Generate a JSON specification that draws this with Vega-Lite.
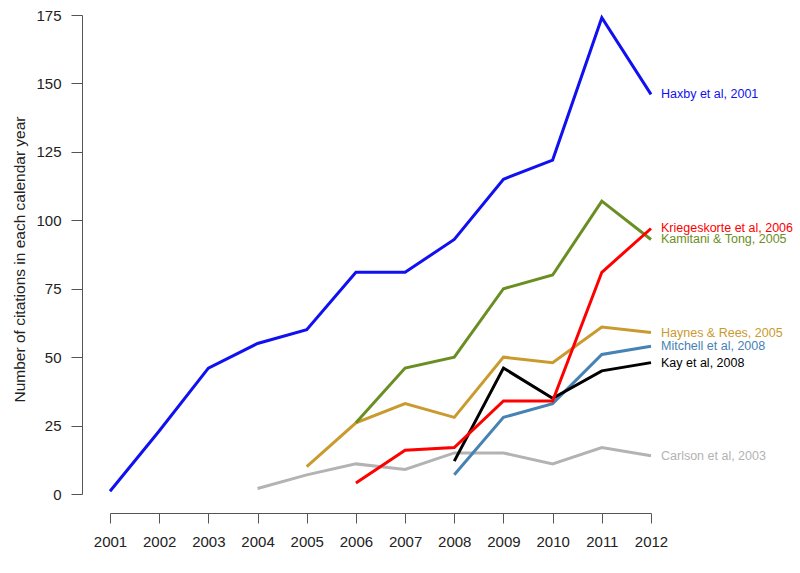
{
  "$schema": "https://vega.github.io/schema/vega-lite/v6.json",
  "width": 541,
  "height": 479,
  "autosize": {"type": "none"},
  "padding": {"left": 110, "top": 15, "right": 149, "bottom": 79},
  "background": "white",
  "config": {"view": {"stroke": null}, "font": "Liberation Sans"},
  "data": {
    "values": [
      {"paper": "Haxby et al, 2001", "year": 2001, "count": 1},
      {"paper": "Haxby et al, 2001", "year": 2002, "count": 23},
      {"paper": "Haxby et al, 2001", "year": 2003, "count": 46},
      {"paper": "Haxby et al, 2001", "year": 2004, "count": 55},
      {"paper": "Haxby et al, 2001", "year": 2005, "count": 60},
      {"paper": "Haxby et al, 2001", "year": 2006, "count": 81},
      {"paper": "Haxby et al, 2001", "year": 2007, "count": 81},
      {"paper": "Haxby et al, 2001", "year": 2008, "count": 93},
      {"paper": "Haxby et al, 2001", "year": 2009, "count": 115},
      {"paper": "Haxby et al, 2001", "year": 2010, "count": 122},
      {"paper": "Haxby et al, 2001", "year": 2011, "count": 174},
      {"paper": "Haxby et al, 2001", "year": 2012, "count": 146},
      {"paper": "Carlson et al, 2003", "year": 2004, "count": 2},
      {"paper": "Carlson et al, 2003", "year": 2005, "count": 7},
      {"paper": "Carlson et al, 2003", "year": 2006, "count": 11},
      {"paper": "Carlson et al, 2003", "year": 2007, "count": 9},
      {"paper": "Carlson et al, 2003", "year": 2008, "count": 15},
      {"paper": "Carlson et al, 2003", "year": 2009, "count": 15},
      {"paper": "Carlson et al, 2003", "year": 2010, "count": 11},
      {"paper": "Carlson et al, 2003", "year": 2011, "count": 17},
      {"paper": "Carlson et al, 2003", "year": 2012, "count": 14},
      {"paper": "Haynes & Rees, 2005", "year": 2005, "count": 10},
      {"paper": "Haynes & Rees, 2005", "year": 2006, "count": 26},
      {"paper": "Haynes & Rees, 2005", "year": 2007, "count": 33},
      {"paper": "Haynes & Rees, 2005", "year": 2008, "count": 28},
      {"paper": "Haynes & Rees, 2005", "year": 2009, "count": 50},
      {"paper": "Haynes & Rees, 2005", "year": 2010, "count": 48},
      {"paper": "Haynes & Rees, 2005", "year": 2011, "count": 61},
      {"paper": "Haynes & Rees, 2005", "year": 2012, "count": 59},
      {"paper": "Kamitani & Tong, 2005", "year": 2006, "count": 26},
      {"paper": "Kamitani & Tong, 2005", "year": 2007, "count": 46},
      {"paper": "Kamitani & Tong, 2005", "year": 2008, "count": 50},
      {"paper": "Kamitani & Tong, 2005", "year": 2009, "count": 75},
      {"paper": "Kamitani & Tong, 2005", "year": 2010, "count": 80},
      {"paper": "Kamitani & Tong, 2005", "year": 2011, "count": 107},
      {"paper": "Kamitani & Tong, 2005", "year": 2012, "count": 93},
      {"paper": "Mitchell et al, 2008", "year": 2008, "count": 7},
      {"paper": "Mitchell et al, 2008", "year": 2009, "count": 28},
      {"paper": "Mitchell et al, 2008", "year": 2010, "count": 33},
      {"paper": "Mitchell et al, 2008", "year": 2011, "count": 51},
      {"paper": "Mitchell et al, 2008", "year": 2012, "count": 54},
      {"paper": "Kay et al, 2008", "year": 2008, "count": 12},
      {"paper": "Kay et al, 2008", "year": 2009, "count": 46},
      {"paper": "Kay et al, 2008", "year": 2010, "count": 35},
      {"paper": "Kay et al, 2008", "year": 2011, "count": 45},
      {"paper": "Kay et al, 2008", "year": 2012, "count": 48},
      {"paper": "Kriegeskorte et al, 2006", "year": 2006, "count": 4},
      {"paper": "Kriegeskorte et al, 2006", "year": 2007, "count": 16},
      {"paper": "Kriegeskorte et al, 2006", "year": 2008, "count": 17},
      {"paper": "Kriegeskorte et al, 2006", "year": 2009, "count": 34},
      {"paper": "Kriegeskorte et al, 2006", "year": 2010, "count": 34},
      {"paper": "Kriegeskorte et al, 2006", "year": 2011, "count": 81},
      {"paper": "Kriegeskorte et al, 2006", "year": 2012, "count": 97}
    ]
  },
  "encoding": {
    "x": {
      "field": "year",
      "type": "quantitative",
      "scale": {"domain": [2001, 2012], "nice": false, "zero": false},
      "axis": {
        "values": [2001, 2002, 2003, 2004, 2005, 2006, 2007, 2008, 2009, 2010, 2011, 2012],
        "format": "d",
        "title": null,
        "grid": false,
        "offset": 19,
        "domainColor": "#555555",
        "tickColor": "#555555",
        "tickSize": 10,
        "labelFontSize": 15,
        "labelColor": "#222222",
        "labelPadding": 11,
        "labelFlush": false,
        "labelOverlap": false
      }
    },
    "y": {
      "field": "count",
      "type": "quantitative",
      "scale": {"domain": [0, 175], "nice": false},
      "axis": {
        "values": [0, 25, 50, 75, 100, 125, 150, 175],
        "title": "Number of citations in each calendar year",
        "titleFontSize": 15.5,
        "titleFontWeight": "normal",
        "titleColor": "#222222",
        "titlePadding": 8,
        "titleY": 244,
        "grid": false,
        "offset": 28,
        "domainColor": "#555555",
        "tickColor": "#555555",
        "tickSize": 11,
        "labelFontSize": 15,
        "labelColor": "#222222",
        "labelPadding": 10,
        "labelFlush": false,
        "labelOverlap": false
      }
    },
    "color": {
      "field": "paper",
      "type": "nominal",
      "scale": {
        "domain": ["Haxby et al, 2001", "Carlson et al, 2003", "Haynes & Rees, 2005", "Kamitani & Tong, 2005", "Mitchell et al, 2008", "Kay et al, 2008", "Kriegeskorte et al, 2006"],
        "range": ["#1010F0", "#B3B3B3", "#C99A2E", "#6B8E23", "#4682B4", "#000000", "#FF0000"]
      },
      "legend": null
    }
  },
  "layer": [
    {
      "mark": {"type": "line", "clip": false},
      "encoding": {
        "strokeWidth": {
          "field": "paper",
          "type": "nominal",
          "scale": {
            "domain": ["Haxby et al, 2001", "Carlson et al, 2003", "Haynes & Rees, 2005", "Kamitani & Tong, 2005", "Mitchell et al, 2008", "Kay et al, 2008", "Kriegeskorte et al, 2006"],
            "range": [3, 3, 3, 3, 3, 3, 4.5]
          },
          "legend": null
        }
      }
    },
    {
      "transform": [{"filter": "datum.year == 2012"}],
      "mark": {"type": "text", "align": "left", "baseline": "middle", "dx": 10, "fontSize": 12.5},
      "encoding": {"text": {"field": "paper", "type": "nominal"}}
    }
  ]
}
